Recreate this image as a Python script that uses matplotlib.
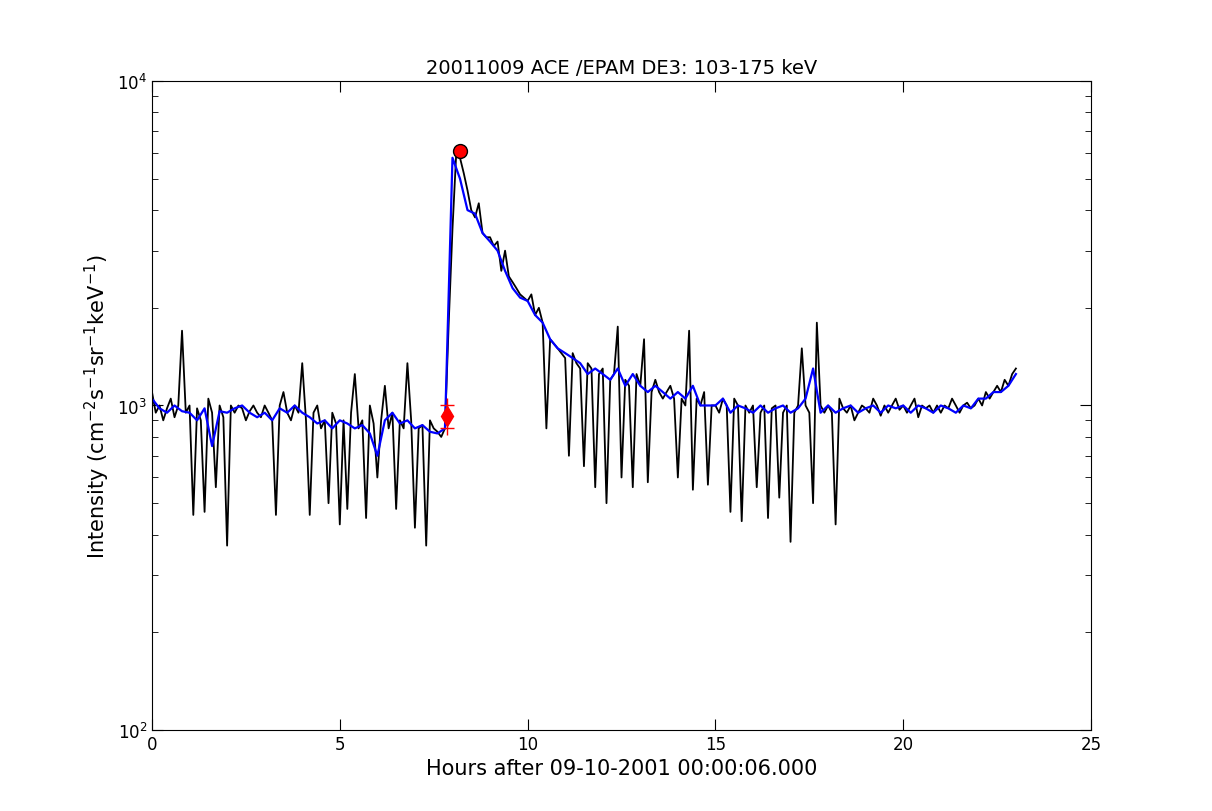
import matplotlib
matplotlib.use("Agg")
import matplotlib.pyplot as plt
import numpy as np

black_vals = [
1100,950,1000,900,980,1050,920,1000,1700,950,
1000,460,980,900,470,1050,950,560,1000,920,
370,1000,950,1000,980,900,960,1000,950,920,
1000,950,900,460,1000,1100,950,900,1000,950,
1350,900,460,950,1000,850,900,500,950,880,
430,900,480,950,1250,850,900,450,1000,880,
600,900,1150,850,950,480,900,850,1350,900,
420,850,870,370,900,850,830,800,850,1800,
3500,6000,5800,5200,4600,4000,3800,4200,3400,3300,
3300,3100,3200,2600,3000,2500,2400,2300,2200,2150,
2100,2200,1900,2000,1800,850,1600,1550,1500,1450,
1400,700,1450,1350,1300,650,1350,1300,560,1250,
1300,500,1200,1250,1750,600,1200,1150,560,1250,
1150,1600,580,1100,1200,1100,1050,1100,1150,1050,
600,1050,1000,1700,550,1050,1000,1100,570,1000,
1000,950,1050,1000,470,1050,1000,440,1000,950,
1000,560,950,1000,450,980,1000,520,950,1000,
380,950,1000,1500,1000,950,500,1800,1000,950,
1000,950,430,1050,980,950,1000,900,950,1000,
980,950,1050,1000,930,1000,950,1000,1050,970,
1000,950,1000,1050,920,1000,980,1000,950,1000,
950,1000,980,1050,1000,950,1000,1020,980,1000,
1050,1000,1100,1050,1100,1150,1100,1200,1150,1250,
1300]
black_t = [i * 0.1 for i in range(len(black_vals))]

blue_vals = [
1050,980,950,1000,960,
950,900,980,750,960,
950,980,1000,950,920,
950,900,980,950,1000,
950,920,880,900,850,
900,880,850,870,820,
700,900,950,880,900,
850,870,830,820,850,
5800,5000,4000,3900,3400,
3200,3000,2600,2300,2150,
2100,1900,1800,1600,1500,
1450,1400,1350,1250,1300,
1250,1200,1300,1150,1250,
1150,1100,1150,1100,1050,
1100,1050,1150,1000,1000,
1000,1050,950,1000,980,
950,1000,950,980,1000,
950,980,1050,1300,950,
1000,950,980,1000,950,
980,1000,950,1000,980,
1000,950,1000,980,950,
1000,980,950,1000,980,
1050,1050,1100,1100,1150,
1250]
blue_t = [i * 0.2 for i in range(len(blue_vals))]

peak_t, peak_v = [8.2], [6100]
onset_t, onset_v = [7.85], [930]
err_t, err_v = [7.85, 7.85], [850, 1000]

fig = plt.figure(figsize=(12.12, 8.12), dpi=100)
ax = fig.add_axes([0.1254, 0.0998, 0.7748, 0.7992])
ax.plot(black_t, black_vals, color='black', lw=1.3)
ax.plot(blue_t, blue_vals, color='blue', lw=1.6)
ax.plot(err_t, err_v, '+', color='red', ms=10)
ax.plot(onset_t, onset_v, 'd', color='red', ms=10)
ax.plot(peak_t, peak_v, 'o', color='red', mec='black', ms=10)
ax.set_yscale('log')
ax.set_ylim(100, 10000)
ax.set_xlim(0, 25)
ax.set_xticks([0, 5, 10, 15, 20, 25])
ax.tick_params(which='both', direction='in', top=True, right=True, labelsize=12)
ax.tick_params(which='major', length=8)
ax.tick_params(which='minor', length=4)
ax.set_title('20011009 ACE /EPAM DE3: 103-175 keV', fontsize=14)
ax.set_xlabel('Hours after 09-10-2001 00:00:06.000', fontsize=15)
ax.set_ylabel(r'Intensity (cm$^{-2}$s$^{-1}$sr$^{-1}$keV$^{-1}$)', fontsize=15)
fig.savefig('out.png', dpi=100)
